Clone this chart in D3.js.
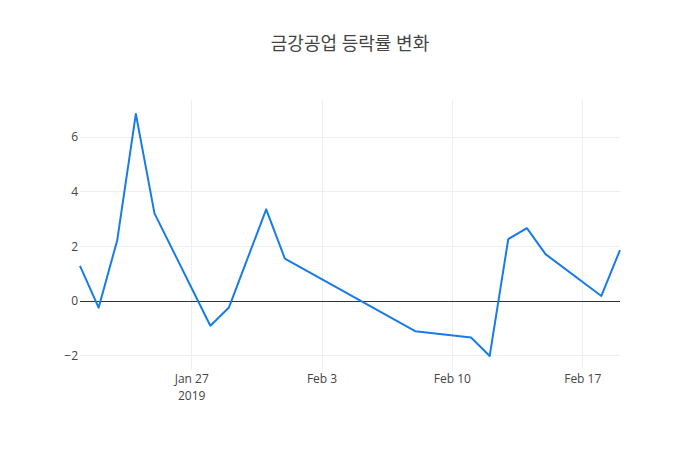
<!DOCTYPE html>
<html>
<head>
<meta charset="utf-8">
<script src="https://cdn.jsdelivr.net/npm/d3@7"></script>
<style>
  body { margin: 0; background: #fff; }
  text { font-family: "Open Sans", "Noto Sans CJK KR", sans-serif; }
</style>
</head>
<body>
<div id="chart"></div>
<script>
// Trading days and daily change (%)
const dates = ["2019-01-21", "2019-01-22", "2019-01-23", "2019-01-24", "2019-01-25",
  "2019-01-28", "2019-01-29", "2019-01-31", "2019-02-01", "2019-02-08",
  "2019-02-11", "2019-02-12", "2019-02-13", "2019-02-14", "2019-02-15",
  "2019-02-18", "2019-02-19"];
const values = [1.29, -0.24, 2.23, 6.85, 3.21,
  -0.90, -0.23, 3.36, 1.56, -1.10,
  -1.33, -2.01, 2.27, 2.67, 1.72,
  0.19, 1.87];
const xTicks = ["2019-01-27", "2019-02-03", "2019-02-10", "2019-02-17"];
const yTicks = [-2, 0, 2, 4, 6];
const title = "금강공업 등락률 변화";

const W = 700, H = 450;
const margin = {top: 100, right: 80, bottom: 80, left: 80};

const parse = d3.timeParse("%Y-%m-%d");
const data = dates.map((d, i) => ({date: parse(d), value: values[i]}));

const svg = d3.select("#chart").append("svg")
  .attr("width", W).attr("height", H);

const x = d3.scaleTime()
  .domain(d3.extent(data, d => d.date))
  .range([margin.left, W - margin.right]);

const y = d3.scaleLinear()
  .domain([-2.52, 7.36])
  .range([H - margin.bottom, margin.top]);

// Grid
svg.append("g")
  .selectAll("line")
  .data(xTicks.map(parse))
  .join("line")
  .attr("x1", d => x(d)).attr("x2", d => x(d))
  .attr("y1", margin.top).attr("y2", H - margin.bottom)
  .attr("stroke", "#eee")
  .attr("shape-rendering", "crispEdges");

svg.append("g")
  .selectAll("line")
  .data(yTicks.filter(v => v !== 0))
  .join("line")
  .attr("x1", margin.left).attr("x2", W - margin.right)
  .attr("y1", d => y(d)).attr("y2", d => y(d))
  .attr("stroke", "#eee")
  .attr("shape-rendering", "crispEdges");

// Zero line
svg.append("line")
  .attr("x1", margin.left).attr("x2", W - margin.right)
  .attr("y1", y(0)).attr("y2", y(0))
  .attr("stroke", "#333").attr("stroke-width", 1)
  .attr("shape-rendering", "crispEdges");

// Y axis labels
svg.append("g")
  .selectAll("text")
  .data(yTicks)
  .join("text")
  .attr("x", margin.left - 2)
  .attr("y", d => y(d))
  .attr("dy", "0.35em")
  .attr("text-anchor", "end")
  .attr("fill", "#444")
  .style("font-size", "12px")
  .text(d => d < 0 ? "\u2212" + Math.abs(d) : d);

// X axis labels
const fmt = d3.timeFormat("%b %-d");
const xl = svg.append("g")
  .selectAll("text")
  .data(xTicks.map(parse))
  .join("text")
  .attr("x", d => x(d))
  .attr("y", H - margin.bottom + 13)
  .attr("text-anchor", "middle")
  .attr("fill", "#444")
  .style("font-size", "12px");
xl.append("tspan").attr("x", d => x(d)).text(d => fmt(d));
xl.filter((d, i) => i === 0)
  .append("tspan").attr("x", d => x(d)).attr("dy", "1.4em")
  .text(d => d.getFullYear());

// Line
svg.append("path")
  .datum(data)
  .attr("fill", "none")
  .attr("stroke", "rgb(22,124,232)")
  .attr("stroke-width", 2)
  .attr("stroke-linejoin", "round")
  .attr("d", d3.line().x(d => x(d.date)).y(d => y(d.value)));

// Title
svg.append("text")
  .attr("x", W / 2)
  .attr("y", 50)
  .attr("text-anchor", "middle")
  .attr("fill", "#444")
  .style("font-size", "18px")
  .text(title);
</script>
</body>
</html>
